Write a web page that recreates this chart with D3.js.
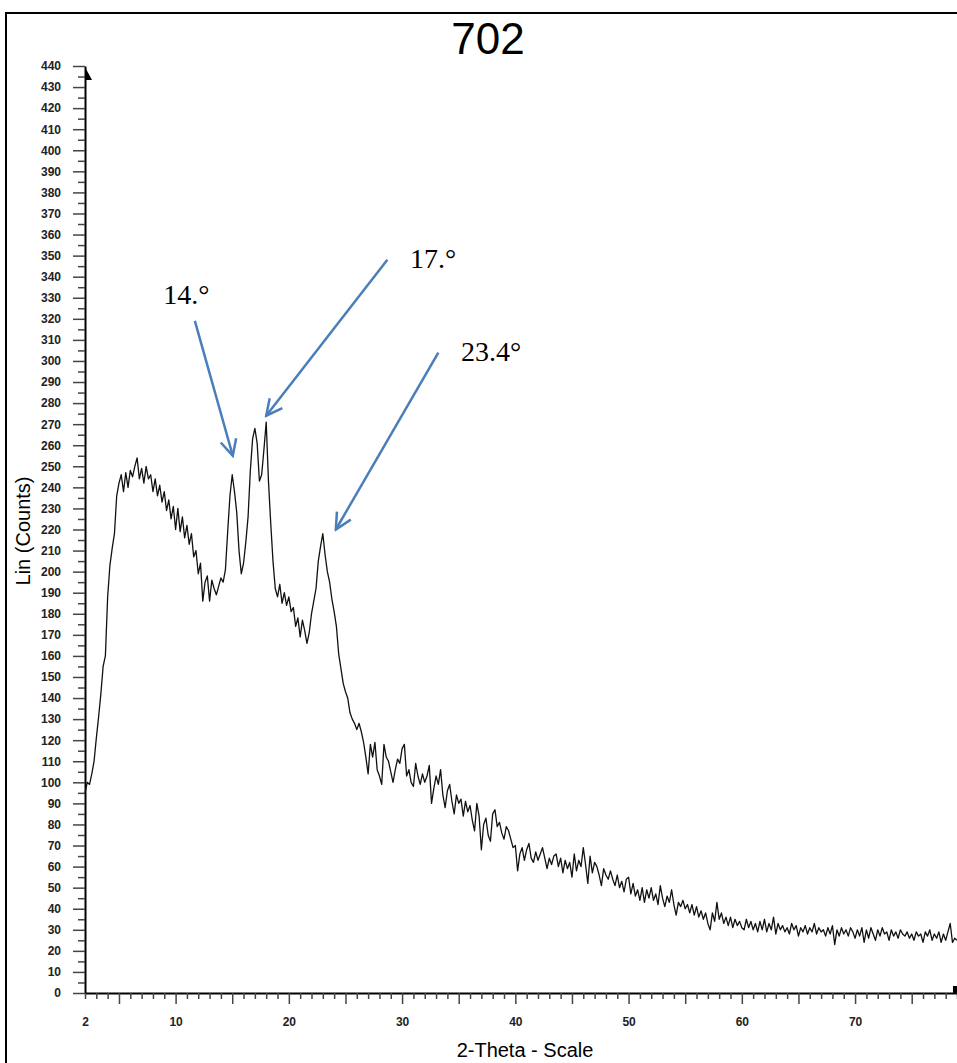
<!DOCTYPE html>
<html>
<head>
<meta charset="utf-8">
<script src="https://cdn.jsdelivr.net/npm/d3@7"></script>
<style>
  body { margin: 0; background: #fff; }
  svg { display: block; }
  .tick text { font-family: "Liberation Sans", Arial, sans-serif; font-weight: bold; font-size: 12px; fill: #222; }
</style>
</head>
<body>
<svg id="chart" width="957" height="1063"></svg>
<script>
// XRD scan "702" - counts every 0.2 deg, one row per degree
const stepDeg = 0.2;

const lowAngleStart = 2;
const lowAngleCounts = [
    95, 100, 99, 104, 110,
    121, 131, 142, 155, 160,
    188, 203, 211, 218, 236,
    242, 246, 238, 247, 240,
    248, 245, 250, 254, 244,
    249, 242, 250, 244, 246,
    238, 244, 236, 241, 233,
    238, 229, 234, 225, 231,
    220, 230, 219, 226, 216,
    222, 213, 218, 207, 210,
    199, 204, 186, 195, 198,
    186, 196, 192, 189, 193,
    197, 195, 201, 219, 236,
    246, 238, 228, 210, 199,
    204, 214, 226, 248, 263,
    268, 261, 243, 246, 258,
    271, 243, 223, 205, 192,
    188, 194, 185, 190, 184,
    188, 181, 183, 174, 178,
    169, 177, 172, 166, 171,
    180, 186, 192, 205, 212,
    218, 208, 200, 195, 187,
    181, 174, 161, 154, 147,
    143, 140, 133, 130, 128
];

const midAngleStart = 26;
const midAngleCounts = [
    125, 128, 124, 119, 112,
    104, 118, 112, 119, 106,
    103, 99, 118, 112, 110,
    105, 100, 106, 111, 109,
    116, 118, 103, 106, 100,
    98, 109, 103, 99, 104,
    100, 103, 108, 90, 97,
    103, 99, 106, 94, 88,
    96, 99, 91, 85, 94,
    90, 92, 84, 91, 86,
    89, 82, 77, 90, 84,
    68, 80, 83, 75, 72,
    85, 87, 79, 81, 76,
    73, 79, 77, 73, 69,
    70, 58, 66, 69, 63,
    68, 71, 64, 62, 67,
    63, 66, 69, 64, 59,
    64, 61, 65, 66, 60,
    64, 57, 63, 59, 62,
    55, 66, 58, 63, 60,
    69, 61, 52, 65, 57,
    62, 60, 56, 51, 59,
    56, 54, 58, 54, 51,
    56, 50, 53, 48, 54,
    55, 47, 52, 46, 49
];

const highAngleStart = 51;
const highAngleCounts = [
    44, 50, 43, 49, 45,
    50, 44, 47, 42, 51,
    45, 41, 46, 43, 49,
    42, 37, 43, 41, 44,
    40, 42, 38, 42, 37,
    41, 36, 39, 35, 38,
    33, 30, 38, 34, 43,
    35, 38, 33, 36, 32,
    36, 31, 35, 32, 34,
    31, 30, 35, 31, 34,
    30, 33, 29, 34, 30,
    35, 29, 33, 30, 36,
    28, 33, 30, 32, 29,
    31, 28, 33, 30, 32,
    27, 31, 29, 32, 28,
    31, 29, 33, 28, 31,
    29, 30, 27, 31, 28,
    32, 23, 30, 27, 31,
    28, 30, 27, 31, 29,
    26, 30, 27, 31, 24,
    30, 26, 31, 28, 25,
    30, 27, 31, 28, 29,
    25, 30, 27, 29, 26,
    30, 28, 27, 29, 26,
    28, 25, 29, 27, 28,
    24, 29, 27, 30, 25,
    28, 26, 29, 24, 28,
    25, 29, 33, 24, 26,
    25
];

// axis ticks
const xTickLabels = [2, 10, 20, 30, 40, 50, 60, 70];
const yTickLabels = d3.range(0, 441, 10);

// peak annotations (data coordinates)
const peakLabels = ['14.°', '17.°', '23.4°'];
const peakLabelAt = [[8.9, 327], [30.7, 344], [35.2, 300]];
const peakArrowFrom = [[11.7, 319], [28.7, 348], [33.2, 304]];
const peakArrowTo = [[15.05, 255], [18.0, 274], [24.15, 220]];

// build series
function segment(start, values) {
    return values.map((v, i) => ({ angle: start + i * stepDeg, counts: v }));
}
const scan = [].concat(
    segment(lowAngleStart, lowAngleCounts),
    segment(midAngleStart, midAngleCounts),
    segment(highAngleStart, highAngleCounts)
);

const svg = d3.select('#chart');

const x = d3.scaleLinear().domain([2, 79]).range([85, 957]);
const y = d3.scaleLinear().domain([0, 440]).range([993, 66]);

// outer frame
svg.append('rect')
    .attr('x', 6).attr('y', 13)
    .attr('width', 1000).attr('height', 1100)
    .attr('fill', 'none')
    .attr('stroke', '#000')
    .attr('stroke-width', 2);

// title
svg.append('text')
    .attr('x', 488).attr('y', 54)
    .attr('text-anchor', 'middle')
    .attr('font-family', '"Liberation Sans", Arial, sans-serif')
    .attr('font-size', 44)
    .text('702');

// y axis
const yAxis = svg.append('g')
    .attr('transform', `translate(${x(2)},0)`)
    .call(d3.axisLeft(y)
        .tickValues(d3.range(0, 441, 5))
        .tickSize(12)
        .tickSizeOuter(0)
        .tickPadding(12)
        .tickFormat(d => yTickLabels.includes(d) ? d : ''));
yAxis.selectAll('.tick line')
    .attr('x2', d => d % 10 === 0 ? -12 : -7)
    .attr('stroke', '#444')
    .attr('stroke-width', 1.5);
yAxis.select('.domain').attr('stroke', '#000').attr('stroke-width', 2);

// x axis
const xAxis = svg.append('g')
    .attr('transform', `translate(0,${y(0)})`)
    .call(d3.axisBottom(x)
        .tickValues(d3.range(2, 80, 1))
        .tickSize(11)
        .tickSizeOuter(0)
        .tickPadding(13)
        .tickFormat(d => xTickLabels.includes(d) ? d : ''));
xAxis.selectAll('.tick line')
    .attr('y2', d => d % 5 === 0 ? 11 : 6)
    .attr('stroke', '#444')
    .attr('stroke-width', 1.5);
xAxis.select('.domain').attr('stroke', '#000').attr('stroke-width', 2);

// axis end markers
svg.append('path')
    .attr('d', `M${x(2)},${y(440) + 1} L${x(2) + 7},${y(440) + 14} L${x(2)},${y(440) + 14} Z`)
    .attr('fill', '#000');
svg.append('rect')
    .attr('x', x(79) - 4).attr('y', y(0) - 7)
    .attr('width', 4).attr('height', 7)
    .attr('fill', '#000');

// axis titles
svg.append('text')
    .attr('transform', 'translate(30,531) rotate(-90)')
    .attr('text-anchor', 'middle')
    .attr('font-family', '"Liberation Sans", Arial, sans-serif')
    .attr('font-size', 20)
    .text('Lin (Counts)');

svg.append('text')
    .attr('x', 525).attr('y', 1057)
    .attr('text-anchor', 'middle')
    .attr('font-family', '"Liberation Sans", Arial, sans-serif')
    .attr('font-size', 20)
    .text('2-Theta - Scale');

// scan trace
const line = d3.line()
    .x(d => x(d.angle))
    .y(d => y(d.counts));

svg.append('path')
    .datum(scan)
    .attr('d', line)
    .attr('fill', 'none')
    .attr('stroke', '#111')
    .attr('stroke-width', 1.3)
    .attr('stroke-linejoin', 'round');

// peak annotations
svg.append('defs').append('marker')
    .attr('id', 'arrowhead')
    .attr('viewBox', '0 0 20 20')
    .attr('refX', 18).attr('refY', 10)
    .attr('markerWidth', 20).attr('markerHeight', 20)
    .attr('markerUnits', 'userSpaceOnUse')
    .attr('orient', 'auto')
    .append('path')
    .attr('d', 'M2,2 L18,10 L2,18')
    .attr('fill', 'none')
    .attr('stroke', '#4a7ebb')
    .attr('stroke-width', 2.5);

peakLabels.forEach((label, i) => {
    svg.append('line')
        .attr('x1', x(peakArrowFrom[i][0])).attr('y1', y(peakArrowFrom[i][1]))
        .attr('x2', x(peakArrowTo[i][0])).attr('y2', y(peakArrowTo[i][1]))
        .attr('stroke', '#4a7ebb')
        .attr('stroke-width', 2.5)
        .attr('marker-end', 'url(#arrowhead)');

    svg.append('text')
        .attr('x', x(peakLabelAt[i][0])).attr('y', y(peakLabelAt[i][1]))
        .attr('font-family', '"Liberation Serif", "Times New Roman", serif')
        .attr('font-size', 28)
        .text(label);
});
</script>
</body>
</html>
